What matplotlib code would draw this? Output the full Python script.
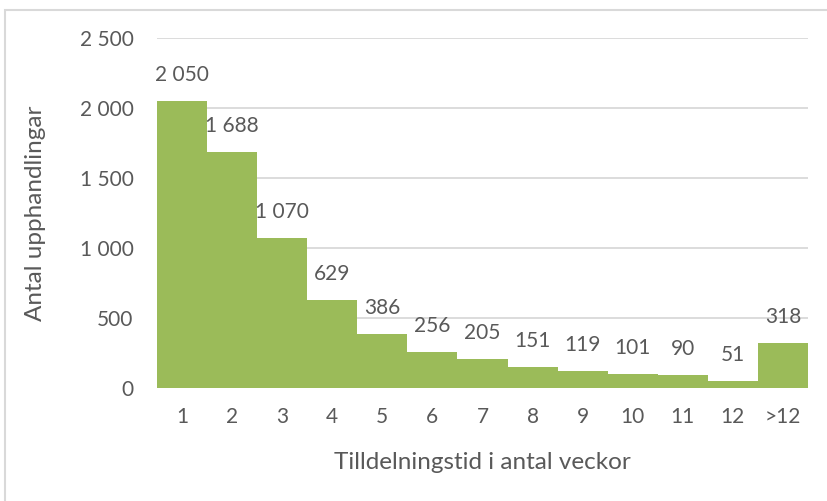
import matplotlib
matplotlib.use("Agg")
import matplotlib.pyplot as plt
from matplotlib.patches import Rectangle

# data
weeks = ["1", "2", "3", "4", "5", "6", "7", "8", "9", "10", "11", "12", ">12"]
counts = [2050, 1688, 1070, 629, 386, 256, 205, 151, 119, 101, 90, 51, 318]
y_ticks = [0, 500, 1000, 1500, 2000, 2500]

BAR = "#9BBB59"
GRID = "#D9D9D9"
TXT = "#595959"

plt.rcParams["font.family"] = ["Lato", "DejaVu Sans"]


def sv(n):
    # Swedish thousands separator (space)
    return f"{n:,}".replace(",", " ")


fig = plt.figure(figsize=(8.28, 5.01), dpi=100)
ax = fig.add_axes([157 / 828, 1 - 388 / 501, 651 / 828, 350 / 501])

x = range(len(weeks))
ax.bar(x, counts, width=1.0, color=BAR, zorder=2)

for xi, c in zip(x, counts):
    ax.annotate(sv(c), (xi, c), xytext=(0, 26), textcoords="offset pixels",
                ha="center", va="center", fontsize=15, color=TXT)

ax.set_xlim(-0.5, len(weeks) - 0.5)
ax.set_ylim(0, 2500)
ax.set_yticks(y_ticks)
ax.set_yticklabels([sv(t) for t in y_ticks])
ax.set_xticks(list(x))
ax.set_xticklabels(weeks)
ax.grid(axis="y", color=GRID, linewidth=1.3, zorder=0)
ax.tick_params(length=0, labelsize=15, labelcolor=TXT)
ax.tick_params(axis="y", pad=17)
ax.tick_params(axis="x", pad=14)
for s in ax.spines.values():
    s.set_visible(False)

ax.set_ylabel("Antal upphandlingar", fontsize=17.5, color=TXT, labelpad=24)
ax.set_xlabel("Tilldelningstid i antal veckor", fontsize=17.5, color=TXT, labelpad=18)

# outer chart frame (runs past right and bottom edges)
fig.patches.append(Rectangle((5 / 828, -0.1), 1.2, 1 - 9.5 / 501 + 0.1,
                             transform=fig.transFigure, fill=False,
                             edgecolor=GRID, linewidth=1.5))

fig.savefig("out.png", dpi=100)
